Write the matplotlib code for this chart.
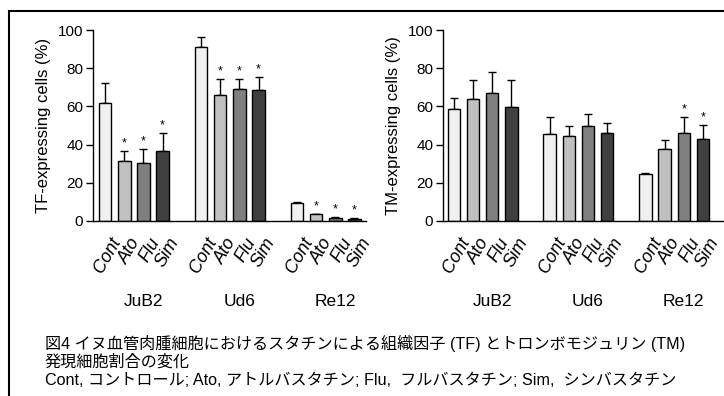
import matplotlib
matplotlib.use("Agg")
import matplotlib.pyplot as plt
import matplotlib.transforms as mtransforms
from matplotlib.patches import Rectangle
import numpy as np

plt.rcParams['font.family'] = ['Liberation Sans', 'Noto Sans CJK JP']

cells = ["JuB2", "Ud6", "Re12"]
treatments = ["Cont", "Ato", "Flu", "Sim"]
colors = ["#f0f0f0", "#c0c0c0", "#808080", "#404040"]

# TF-expressing cells (%), rows = cells, cols = treatments
tf_mean = [[62.0, 31.2, 30.5, 36.8],
           [91.3, 65.8, 68.9, 68.6],
           [9.4, 3.5, 1.7, 1.0]]
tf_err = [[10.1, 5.6, 7.4, 9.4],
          [5.2, 8.5, 5.6, 7.0],
          [0.7, 0.4, 0.4, 0.4]]
tf_sig = [[0, 1, 1, 1],
          [0, 1, 1, 1],
          [0, 1, 1, 1]]

# TM-expressing cells (%)
tm_mean = [[58.7, 63.8, 67.1, 59.8],
           [45.8, 44.3, 49.7, 46.2],
           [24.6, 37.8, 46.2, 42.9]]
tm_err = [[5.6, 9.9, 11.1, 13.9],
          [8.9, 5.4, 6.4, 5.0],
          [0.3, 4.5, 8.2, 7.4]]
tm_sig = [[0, 0, 0, 0],
          [0, 0, 0, 0],
          [0, 0, 1, 1]]

caption = ["図4 イヌ血管肉腫細胞におけるスタチンによる組織因子 (TF) とトロンボモジュリン (TM)",
           "発現細胞割合の変化",
           "Cont, コントロール; Ato, アトルバスタチン; Flu,  フルバスタチン; Sim,  シンバスタチン"]

W, H = 724, 396
fig = plt.figure(figsize=(W / 100, H / 100), dpi=100)


def px_axes(x0, x1, y0, y1):
    return fig.add_axes([x0 / W, 1 - y1 / H, (x1 - x0) / W, (y1 - y0) / H])


def draw_panel(ax, mean, err, sig, ylabel, xlim):
    width = 0.65
    pos_all, lab_all = [], []
    for g, cell in enumerate(cells):
        for k, tr in enumerate(treatments):
            x = g * 5 + k
            m, e = mean[g][k], err[g][k]
            ax.bar(x, m, width, color=colors[k], edgecolor="black", linewidth=1.0, zorder=2)
            ax.errorbar(x, m, yerr=[[0], [e]], fmt="none", ecolor="black",
                        elinewidth=1.0, capsize=2.8, capthick=1.0, zorder=1)
            if sig[g][k]:
                ax.text(x, m + e + 0.8, "*", ha="center", va="bottom", fontsize=9)
            pos_all.append(x)
            lab_all.append(tr)
        trans = mtransforms.blended_transform_factory(ax.transData, fig.transFigure)
        ax.text(g * 5 + 2.0, 1 - 302 / H, cell, transform=trans, ha="center",
                va="center", fontsize=12.5)
    ax.set_xlim(*xlim)
    ax.set_ylim(0, 100)
    ax.set_yticks([0, 20, 40, 60, 80, 100])
    ax.set_xticks(pos_all)
    ax.set_xticklabels(lab_all, rotation=60, ha="right", rotation_mode="anchor",
                       fontstyle="italic", fontsize=13)
    ax.tick_params(axis="x", length=0, pad=10)
    ax.tick_params(axis="y", direction="out", length=5, width=1, labelsize=11, pad=2)
    for lab in ax.get_xticklabels():
        lab.set_transform(lab.get_transform() + mtransforms.ScaledTranslation(5 / 100, 0, fig.dpi_scale_trans))
    for s in ["top", "right"]:
        ax.spines[s].set_visible(False)
    ax.spines["left"].set_linewidth(1.0)
    ax.spines["bottom"].set_linewidth(1.0)
    ax.set_ylabel(ylabel, fontsize=12, labelpad=5)
    ax.patch.set_alpha(0)


ax1 = px_axes(93, 366, 30, 221)
draw_panel(ax1, tf_mean, tf_err, tf_sig, "TF-expressing cells (%)", (-0.63, 13.6))

ax2 = px_axes(443, 724, 30, 221)
draw_panel(ax2, tm_mean, tm_err, tm_sig, "TM-expressing cells (%)", (-0.57, 14.1))

# caption
for i, line in enumerate(caption):
    fig.text(45 / W, 1 - (343 + 18.5 * i) / H, line, ha="left", va="center", fontsize=11.6)

# outer frame (only top/left edges fall inside the image)
fig.patches.append(Rectangle((9 / W, -0.1), 1.2, 1 - 11 / H + 0.1, transform=fig.transFigure,
                             fill=False, edgecolor="black", linewidth=1.5))

fig.savefig("out.png", dpi=100)
